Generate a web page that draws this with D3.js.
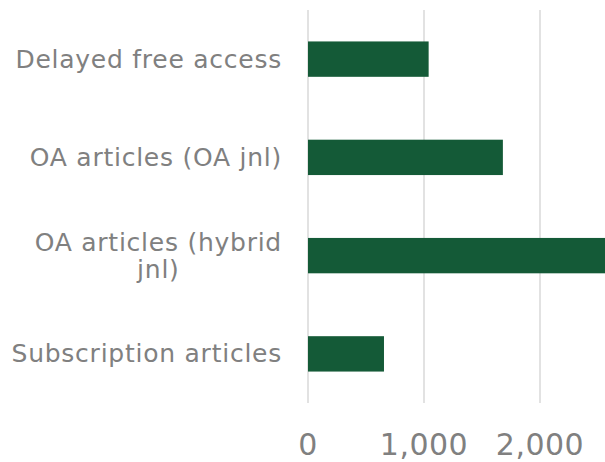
<!DOCTYPE html>
<html><head><meta charset="utf-8">
<script src="https://cdn.jsdelivr.net/npm/d3@7"></script>
<style>html,body{margin:0;padding:0;background:#fff;overflow:hidden}</style>
</head><body>
<script>
const categories = ["Delayed free access", "OA articles (OA jnl)", "OA articles (hybrid jnl)", "Subscription articles"];
const labelLines = [["Delayed free access"], ["OA articles (OA jnl)"], ["OA articles (hybrid", "jnl)"], ["Subscription articles"]];
const values = [1040, 1680, 2700, 655];
const tickValues = [0, 1000, 2000];

const W = 605, H = 462;
const svg = d3.select("body").append("svg").attr("width", W).attr("height", H)
  .style("font-family", "'DejaVu Sans', Verdana, sans-serif");

const x = d3.scaleLinear().domain([0, 2000]).range([308, 540]);
const y = d3.scaleBand().domain(categories).range([10, 403]).paddingInner(0.64).paddingOuter(0.32);

// gridlines
svg.append("g").selectAll("line").data(tickValues).join("line")
  .attr("x1", d => x(d)).attr("x2", d => x(d))
  .attr("y1", 10).attr("y2", 403)
  .attr("stroke", "#d9d9d9").attr("stroke-width", 1.5);

// bars
svg.append("g").selectAll("rect").data(values).join("rect")
  .attr("x", x(0)).attr("y", (d, i) => y(categories[i]))
  .attr("width", d => x(d) - x(0)).attr("height", y.bandwidth())
  .attr("fill", "#145a37");

// x tick labels
svg.append("g").selectAll("text").data(tickValues).join("text")
  .attr("x", d => x(d)).attr("y", 455)
  .attr("text-anchor", "middle").attr("fill", "#808080")
  .style("font-size", "30px").style("letter-spacing", "0.5px")
  .text(d => d3.format(",")(d));

// category labels
const lg = svg.append("g");
labelLines.forEach((lines, i) => {
  const cy = y(categories[i]) + y.bandwidth() / 2;
  const lh = 27;
  const t = lg.append("text").attr("fill", "#808080")
    .style("font-size", "25px").style("letter-spacing", "0.75px");
  const spans = lines.map((s, k) => t.append("tspan").text(s));
  const widths = spans.map(s => s.node().getComputedTextLength());
  const maxW = Math.max(...widths);
  const cx = 282 - maxW / 2;
  const y0 = lines.length > 1 ? cy - 4.5 : cy + 8.5;
  spans.forEach((s, k) => s.attr("x", cx).attr("y", y0 + k * lh).attr("text-anchor", "middle"));
});
</script>
</body></html>
